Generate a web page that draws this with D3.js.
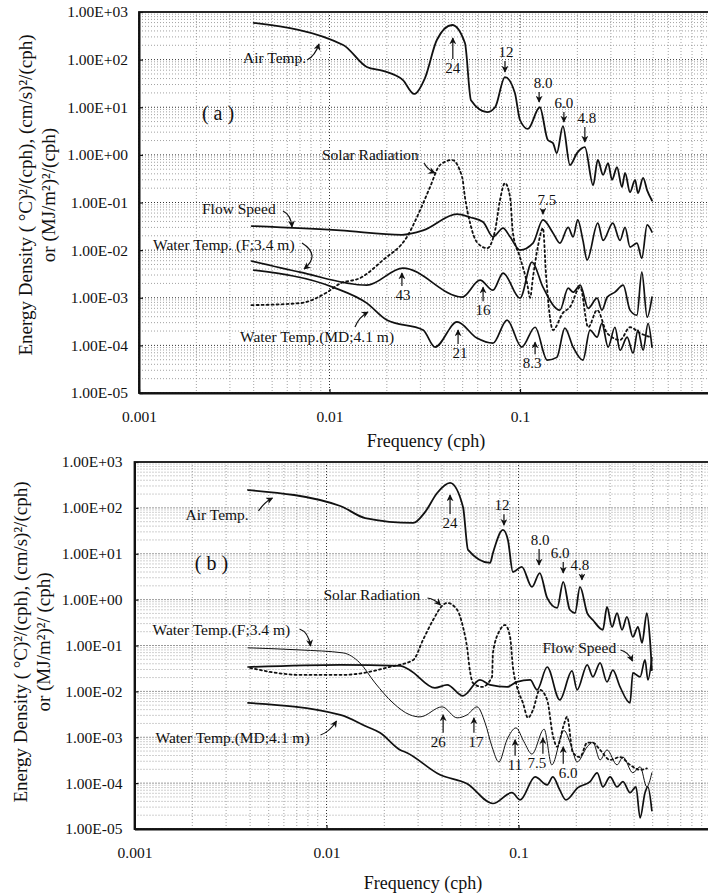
<!doctype html>
<html>
<head>
<meta charset="utf-8"/>
<title>Energy density spectra</title>
<script src="https://d3js.org/d3.v7.min.js"></script>
<style>
body { margin: 0; background: #fff; }
text { font-family: "Liberation Serif", "Times New Roman", serif; fill: #111; }
</style>
</head>
<body>
<svg id="chart"></svg>
<script>
// ---- data: [frequency (cph), energy density] ----
// panel (a)
const airTempA = [[0.004,590],[0.0118,203],[0.0157,70],[0.0191,58],[0.0243,37],[0.0278,19],[0.0317,41],[0.0366,258],[0.044,533],[0.0514,223],
  [0.0553,14],[0.0672,7.9],[0.074,10],[0.0834,43],[0.094,20],[0.1,5.4],[0.11,3.5],[0.127,10],[0.14,2.05],[0.149,1.77],
  [0.156,1.09],[0.168,4.0],[0.183,0.61],[0.199,1.09],[0.219,1.46],[0.242,0.23],[0.256,0.78],[0.273,0.38],[0.29,0.67],[0.304,0.30],
  [0.323,0.55],[0.343,0.21],[0.356,0.42],[0.378,0.165],[0.402,0.30],[0.416,0.157],[0.443,0.33],[0.465,0.18],[0.493,0.11]]
const solarA = [[0.0039,7.0e-4],[0.007,7.7e-4],[0.0097,1.3e-3],[0.0114,2.0e-3],[0.0145,2.6e-3],[0.0191,6.2e-3],[0.0255,1.9e-2],[0.0299,0.069],[0.0337,0.21],[0.038,0.61],
  [0.044,0.78],[0.0497,0.34],[0.0514,0.13],[0.0547,0.037],[0.0594,0.0147],[0.0672,0.011],[0.074,0.026],[0.0785,0.112],[0.0834,0.256],[0.0887,0.13],
  [0.0918,0.023],[0.1,7.1e-3],[0.109,2.0e-3],[0.113,1.0e-3],[0.117,2.7e-3],[0.124,0.0116],[0.132,0.029],[0.137,3.0e-3],[0.149,2.1e-4],[0.168,4.8e-4],
  [0.183,6.4e-4],[0.207,1.67e-3],[0.228,2.4e-4],[0.254,5.5e-4],[0.287,1.8e-4],[0.335,1.3e-4],[0.378,2.4e-4],[0.427,1.8e-4],[0.481,1.5e-4]]
const flowA = [[0.0039,0.032],[0.0114,0.026],[0.024,0.021],[0.031,0.026],[0.0467,0.057],[0.0547,0.049],[0.064,0.039],[0.0721,0.019],[0.0815,0.029],[0.0887,0.019],
  [0.1,0.010],[0.117,0.014],[0.132,0.043],[0.149,0.023],[0.162,0.014],[0.179,0.030],[0.19,0.019],[0.201,0.043],[0.214,0.016],[0.225,0.0062],
  [0.256,0.037],[0.273,0.016],[0.307,0.037],[0.335,0.016],[0.356,0.030],[0.378,0.0116],[0.411,0.014],[0.436,0.0068],[0.465,0.034],[0.493,0.024]]
const waterFA = [[0.0039,5.9e-3],[0.007,3.45e-3],[0.0157,1.84e-3],[0.0243,4.2e-3],[0.0497,1.03e-3],[0.0617,2.34e-3],[0.0721,1.44e-3],[0.0815,3.3e-3],[0.1,9.8e-4],[0.1156,5.6e-3],
  [0.132,1.67e-3],[0.162,5.5e-4],[0.179,1.59e-3],[0.19,1.31e-3],[0.207,1.84e-3],[0.228,6.0e-4],[0.254,9.8e-4],[0.269,5.5e-4],[0.287,1.03e-3],[0.315,1.31e-3],
  [0.348,1.84e-3],[0.378,5.5e-4],[0.411,4.3e-4],[0.436,3.45e-3],[0.465,3.9e-4],[0.493,1.03e-3]]
const waterMDA = [[0.004,3.8e-3],[0.0104,1.67e-3],[0.0157,7.7e-4],[0.02,3.4e-4],[0.031,2.1e-4],[0.0358,9.2e-5],[0.0467,3.1e-4],[0.0594,1.42e-4],[0.0721,1.11e-4],[0.0855,3.4e-4],
  [0.102,9.2e-5],[0.12,2.4e-4],[0.139,4.9e-5],[0.156,5.6e-5],[0.172,2.3e-4],[0.19,9.2e-5],[0.214,4.9e-5],[0.233,2.1e-4],[0.254,1.49e-4],[0.269,2.9e-4],
  [0.29,9.2e-5],[0.315,2.4e-4],[0.335,7.9e-5],[0.365,1.49e-4],[0.392,6.9e-5],[0.416,2.1e-4],[0.443,7.9e-5],[0.47,2.9e-4],[0.493,9.2e-5]]

// panel (b)
const airTempB = [[0.0039,245],[0.0118,110],[0.0159,60],[0.0283,47],[0.0326,81],[0.0377,211],[0.044,349],[0.0514,105],[0.0546,12.1],[0.0711,6.3],
  [0.0736,10.4],[0.083,33],[0.0881,20],[0.0935,4.0],[0.104,5.2],[0.1175,1.89],[0.129,3.8],[0.141,1.09],[0.159,0.66],[0.171,2.43],
  [0.185,0.60],[0.197,0.51],[0.209,1.89],[0.228,0.51],[0.244,0.36],[0.275,0.22],[0.289,0.69],[0.307,0.254],[0.326,0.51],[0.346,0.22],
  [0.367,0.42],[0.394,0.154],[0.419,0.254],[0.44,0.114],[0.466,0.51],[0.484,0.132],[0.495,0.029]]
const solarB = [[0.004,0.0325],[0.00728,0.0229],[0.0122,0.0229],[0.0214,0.0342],[0.0283,0.0485],[0.0318,0.132],[0.0359,0.36],[0.0405,0.77],[0.0425,0.85],[0.0479,0.60],
  [0.0514,0.254],[0.054,0.089],[0.0558,0.029],[0.0579,0.0153],[0.0646,0.0125],[0.0728,0.0207],[0.0736,0.069],[0.0802,0.22],[0.0851,0.28],[0.0904,0.154],
  [0.0935,0.0342],[0.0982,0.0125],[0.1055,5.6e-3],[0.112,2.65e-3],[0.119,3.95e-3],[0.129,0.0108],[0.141,6.5e-3],[0.151,1.1e-3],[0.159,6.2e-4],[0.171,1.69e-3],
  [0.179,2.78e-3],[0.192,4.6e-4],[0.209,3.7e-4],[0.228,7.6e-4],[0.244,7.6e-4],[0.266,5.3e-4],[0.30,3.2e-4],[0.338,3.7e-4],[0.381,2.5e-4],[0.43,1.95e-4],[0.466,2.1e-4]]
const flowB = [[0.0039,0.034],[0.0118,0.038],[0.0242,0.036],[0.0272,0.029],[0.0367,0.0119],[0.0425,0.0139],[0.0514,8.0e-3],[0.063,0.0178],[0.0711,0.0139],[0.0871,0.0125],
  [0.0982,0.0161],[0.115,0.0178],[0.125,0.0108],[0.141,0.034],[0.164,6.5e-3],[0.19,0.028],[0.202,0.0108],[0.228,0.038],[0.244,0.0207],[0.266,0.042],
  [0.289,0.016],[0.31,0.029],[0.338,0.0125],[0.381,5.6e-3],[0.394,0.0253],[0.43,0.0207],[0.456,0.0485],[0.472,0.0178],[0.495,0.054]]
const waterFB = [[0.0039,0.089],[0.00728,0.080],[0.0122,0.069],[0.0149,0.042],[0.0179,0.0153],[0.0222,5.6e-3],[0.0272,3.08e-3],[0.0307,2.78e-3],[0.040,4.6e-3],[0.0479,2.65e-3],
  [0.054,3.08e-3],[0.0608,4.6e-3],[0.067,2.06e-3],[0.0728,6.2e-4],[0.079,2.9e-4],[0.0871,8.8e-4],[0.097,1.6e-3],[0.1067,8.0e-4],[0.1175,4.3e-4],[0.136,1.5e-3],
  [0.149,2.5e-4],[0.1726,1.4e-3],[0.1875,6.8e-4],[0.202,2.9e-4],[0.228,6.2e-4],[0.244,7.8e-4],[0.266,3.2e-4],[0.289,5.3e-4],[0.326,2.5e-4],[0.35,3.7e-4],
  [0.394,1.68e-4],[0.43,2.27e-4],[0.466,8.3e-5],[0.495,1.68e-4]]
const waterMDB = [[0.0039,5.6e-3],[0.0118,3.08e-3],[0.01626,1.69e-3],[0.019,1.25e-3],[0.0242,5.3e-4],[0.0262,4.6e-4],[0.039,1.52e-4],[0.054,9.7e-5],[0.0736,3.6e-5],[0.0925,6.2e-5],
  [0.102,4.3e-5],[0.122,1.37e-4],[0.141,9.2e-5],[0.151,1.37e-4],[0.164,7.1e-5],[0.1766,4.3e-5],[0.204,8.0e-5],[0.236,1.08e-4],[0.257,1.68e-4],[0.275,8.3e-5],
  [0.30,1.37e-4],[0.326,8.3e-5],[0.35,1.08e-4],[0.381,6.2e-5],[0.409,8.3e-5],[0.43,1.75e-5],[0.456,6.2e-5],[0.472,8.3e-5],[0.495,2.5e-5]]

// axis ticks
const xTicks = [0.001, 0.01, 0.1]
const xTickLabels = ['0.001', '0.01', '0.1']
const yTicks = [1e-5, 1e-4, 1e-3, 1e-2, 1e-1, 1e0, 1e1, 1e2, 1e3]
const yTickLabels = ['1.00E-05', '1.00E-04', '1.00E-03', '1.00E-02', '1.00E-01', '1.00E+00', '1.00E+01', '1.00E+02', '1.00E+03']

// labelled peaks: text, frequency, energy at arrow tip, arrow direction
const peaksA = [['24',0.0444,284,'up'],['12',0.0834,55,'down'],['8.0',0.126,12.9,'down'],['6.0',0.170,4.9,'down'],['4.8',0.219,1.86,'down'],
  ['7.5',0.132,0.057,'down'],['43',0.024,3.3e-3,'up'],['16',0.064,1.67e-3,'up'],['21',0.0473,2.1e-4,'up'],['8.3',0.12,1.17e-4,'up']]
const peaksB = [['24',0.044,191,'up'],['12',0.084,42,'down'],['8.0',0.128,5.7,'down'],['6.0',0.171,3.8,'down'],['4.8',0.214,2.7,'down'],
  ['26',0.0405,3.08e-3,'up'],['17',0.0586,2.65e-3,'up'],['11',0.096,8.8e-4,'up'],['7.5',0.134,9.7e-4,'up'],['6.0',0.171,6.2e-4,'up']]

// ---- layout ----
const width = 708
const height = 895

const svg = d3.select('#chart')
    .attr('width', width)
    .attr('height', height)
    .style('display', 'block')

svg.append('defs').append('marker')
    .attr('id', 'head')
    .attr('viewBox', '0 0 10 10')
    .attr('refX', 9).attr('refY', 5)
    .attr('markerWidth', 7).attr('markerHeight', 7)
    .attr('markerUnits', 'userSpaceOnUse')
    .attr('orient', 'auto')
    .append('path')
    .attr('d', 'M0,0 L10,5 L0,10 L3,5 Z')
    .attr('fill', '#111')

const panels = [
    {
        left: 139, top: 12, bottom: 393, decade: 190.5, tickPad: 11,
        letter: '( a )', letterPos: [79, 101],
        series: [
            {data: airTempA, w: 1.8}, {data: solarA, w: 1.8, dash: '2,3'},
            {data: flowA, w: 1.7}, {data: waterFA, w: 1.7}, {data: waterMDA, w: 1.7}
        ],
        peaks: peaksA,
        arrowLen: [21, 11, 10, 10, 15, 5, 13, 14, 14, 12],
        peakDx: [0, 1, 4, 0, 2, 4, 1, 0, 2, -3],
        labels: [
            ['Air Temp.', 104, 46, [168, 48, 176, 44, 180, 32]],
            ['Solar Radiation', 183, 143, [285, 151, 289, 158, 296, 161]],
            ['Flow Speed', 63, 197, [144, 199, 152, 203, 153, 215]],
            ['Water Temp. (F;3.4 m)', 14, 233, [163, 231, 182, 243, 165, 257]],
            ['Water Temp.(MD;4.1 m)', 101, 325, [216, 315, 220, 305, 229, 300]]
        ],
        yLab: [32, 55, 195], yLine2: 'or (MJ/m²)²/(cph)',
        xLabY: 447, xLabX: 426
    },
    {
        left: 134.5, top: 462, bottom: 829, decade: 192, tickPad: 12,
        letter: '( b )', letterPos: [77, 101],
        series: [
            {data: airTempB, w: 1.8}, {data: solarB, w: 1.8, dash: '2,3'},
            {data: flowB, w: 1.7}, {data: waterFB, w: 1.0}, {data: waterMDB, w: 1.7}
        ],
        peaks: peaksB,
        arrowLen: [19, 11, 16, 11, 6, 18, 15, 16, 16, 17],
        peakDx: [0, -2, 1, -3, -2, -5, 2, 0, -6, 5],
        labels: [
            ['Air Temp.', 51, 53, [124, 49, 130, 40, 138, 36]],
            ['Solar Radiation', 189, 133, [293, 136, 300, 137, 306, 143]],
            ['Water Temp.(F;3.4 m)', 18, 168, [165, 167, 174, 170, 176, 184]],
            ['Flow Speed', 408, 186, [486, 188, 494, 190, 498, 199]],
            ['Water Temp.(MD;4.1 m)', 21, 276, [186, 273, 195, 270, 202, 259]]
        ],
        yLab: [27, 50, 642], yLine2: 'or (MJ/m²)²/ (cph)',
        xLabY: 889, xLabX: 423
    }
]

function drawPanel(p) {
    const x = d3.scaleLog().domain([0.001, 1]).range([p.left, p.left + 3 * p.decade])
    const y = d3.scaleLog().domain([1e-5, 1e3]).range([p.bottom, p.top])
    const g = svg.append('g')

    // dotted grid, one line per minor tick
    const gx = [], gy = []
    for (let e = -3; e < 0; e++) for (let k = 1; k < 10; k++) gx.push(k * Math.pow(10, e))
    for (let e = -5; e < 3; e++) for (let k = 1; k < 10; k++) gy.push(k * Math.pow(10, e))
    g.selectAll('.vg').data(gx).join('line')
        .attr('x1', d => x(d)).attr('x2', d => x(d))
        .attr('y1', p.top).attr('y2', p.bottom)
        .attr('stroke', (d, i) => i % 9 === 0 ? '#333' : '#8a8a8a')
        .attr('stroke-width', (d, i) => i % 9 === 0 ? 1 : 0.8)
        .attr('stroke-dasharray', '1,2')
    g.selectAll('.hg').data(gy).join('line')
        .attr('x1', p.left).attr('x2', x(1))
        .attr('y1', d => y(d)).attr('y2', d => y(d))
        .attr('stroke', (d, i) => i % 9 === 0 ? '#333' : '#8a8a8a')
        .attr('stroke-width', (d, i) => i % 9 === 0 ? 1 : 0.8)
        .attr('stroke-dasharray', '1,2')

    // frame
    g.append('rect')
        .attr('x', p.left).attr('y', p.top)
        .attr('width', x(1) - p.left).attr('height', p.bottom - p.top)
        .attr('fill', 'none').attr('stroke', '#111').attr('stroke-width', 1.8)

    // axes
    const ya = g.append('g').attr('transform', `translate(${p.left},0)`)
        .call(d3.axisLeft(y).tickValues(yTicks)
            .tickFormat((d, i) => yTickLabels[i])
            .tickSize(-4).tickSizeOuter(0).tickPadding(p.tickPad))
    const xa = g.append('g').attr('transform', `translate(0,${p.bottom})`)
        .call(d3.axisBottom(x).tickValues(xTicks)
            .tickFormat((d, i) => xTickLabels[i])
            .tickSize(-4).tickSizeOuter(0).tickPadding(18))
    for (const a of [ya, xa]) {
        a.select('.domain').attr('stroke', '#111').attr('stroke-width', 2)
        a.selectAll('.tick line').attr('stroke', '#111').attr('stroke-width', 1.2)
        a.selectAll('.tick text')
            .style('font-family', '"Liberation Serif", serif')
            .style('font-size', '15.5px')
            .attr('fill', '#111')
    }

    // spectra
    const line = d3.line()
        .x(d => x(d[0]))
        .y(d => y(d[1]))
        .curve(d3.curveMonotoneX)
    for (const s of p.series) {
        g.append('path')
            .attr('d', line(s.data))
            .attr('fill', 'none')
            .attr('stroke', '#111')
            .attr('stroke-width', s.w)
            .attr('stroke-linejoin', 'round')
            .attr('stroke-linecap', 'round')
            .attr('stroke-dasharray', s.dash || null)
    }

    // period labels with arrows
    p.peaks.forEach((pk, i) => {
        const [t, f, e, dir] = pk
        const px = x(f), py = y(e)
        const sgn = dir === 'up' ? 1 : -1
        const len = p.arrowLen[i]
        g.append('line')
            .attr('x1', px).attr('y1', py + sgn * len)
            .attr('x2', px).attr('y2', py)
            .attr('stroke', '#111').attr('stroke-width', 1.2)
            .attr('marker-end', 'url(#head)')
        g.append('text')
            .attr('x', px + p.peakDx[i]).attr('y', py + sgn * (len + 9))
            .attr('dy', '0.35em')
            .attr('text-anchor', 'middle')
            .style('font-size', '15px')
            .text(t)
    })

    // series names with curved pointers (offsets from the plot corner)
    const ox = p.left, oy = p.top
    for (const [t, lx, ly, a] of p.labels) {
        g.append('text')
            .attr('x', ox + lx).attr('y', oy + ly)
            .attr('dy', '0.35em')
            .style('font-size', '15.5px')
            .text(t)
        g.append('path')
            .attr('d', `M${ox + a[0]},${oy + a[1]} Q${ox + a[2]},${oy + a[3]} ${ox + a[4]},${oy + a[5]}`)
            .attr('fill', 'none').attr('stroke', '#111').attr('stroke-width', 1.2)
            .attr('marker-end', 'url(#head)')
    }

    g.append('text')
        .attr('x', ox + p.letterPos[0]).attr('y', oy + p.letterPos[1])
        .attr('dy', '0.35em')
        .attr('text-anchor', 'middle')
        .style('font-size', '20px')
        .text(p.letter)

    // axis titles
    g.append('text')
        .attr('x', p.xLabX).attr('y', p.xLabY)
        .attr('text-anchor', 'middle')
        .style('font-size', '18px')
        .text('Frequency (cph)')
    const [b1, b2, cy] = p.yLab
    g.append('text')
        .attr('transform', `translate(${b1},${cy}) rotate(-90)`)
        .attr('text-anchor', 'middle')
        .style('font-size', '19px')
        .text('Energy Density ( °C)²/(cph), (cm/s)²/(cph)')
    g.append('text')
        .attr('transform', `translate(${b2},${cy}) rotate(-90)`)
        .attr('text-anchor', 'middle')
        .style('font-size', '19px')
        .text(p.yLine2)
}

panels.forEach(drawPanel)
</script>
</body>
</html>
